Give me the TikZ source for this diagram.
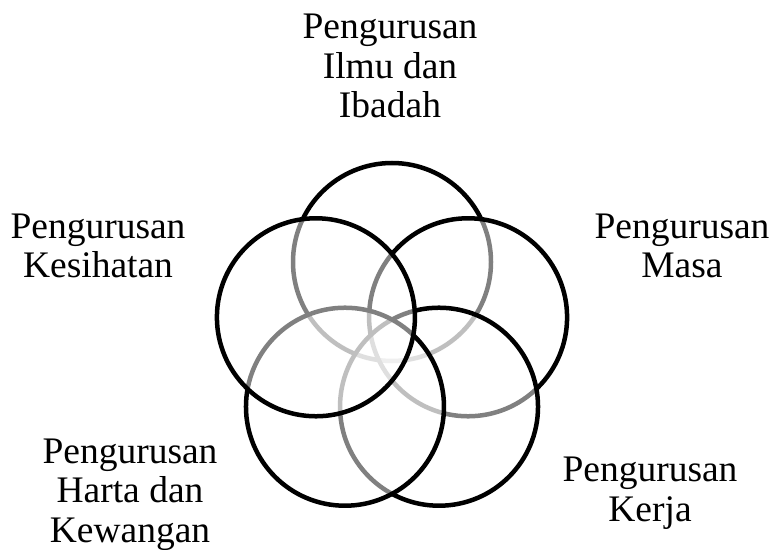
\documentclass[tikz,border=0pt]{standalone}
\usepackage{fontspec}
\setmainfont{Liberation Serif}

\tikzset{
  ring/.style={circle, draw=black, line width=4.5pt, fill=white, fill opacity=0.5,
    minimum size=198pt, inner sep=0pt},
  tajuk/.style={align=center, anchor=base, inner sep=0pt}
}

\begin{document}
\begin{tikzpicture}[x=1pt, y=1pt, every node/.style={font=\fontsize{37.5}{39.5}\selectfont}]
  \useasboundingbox (0,0) rectangle (773,549);

  \coordinate (pusat) at (392,207);

  % circles, first one lies at the bottom
  \foreach \nama/\sudut in {ilmu/90, masa/18, kerja/-54, harta/-126, sihat/162} {
    \node[ring] (\nama) at ([shift={(\sudut:80)}]pusat) {};
  }

  % labels, placed at the baseline of their last line
  \node[tajuk] (lilmu)  at (390,431) {Pengurusan\\Ilmu dan\\Ibadah};
  \node[tajuk] (lsihat) at (98,271)  {Pengurusan\\Kesihatan};
  \node[tajuk] (lmasa)  at (682,271) {Pengurusan\\Masa};
  \node[tajuk] (lharta) at (130,7)   {Pengurusan\\Harta dan\\Kewangan};
  \node[tajuk] (lkerja) at (650,28)  {Pengurusan\\Kerja};
\end{tikzpicture}
\end{document}
